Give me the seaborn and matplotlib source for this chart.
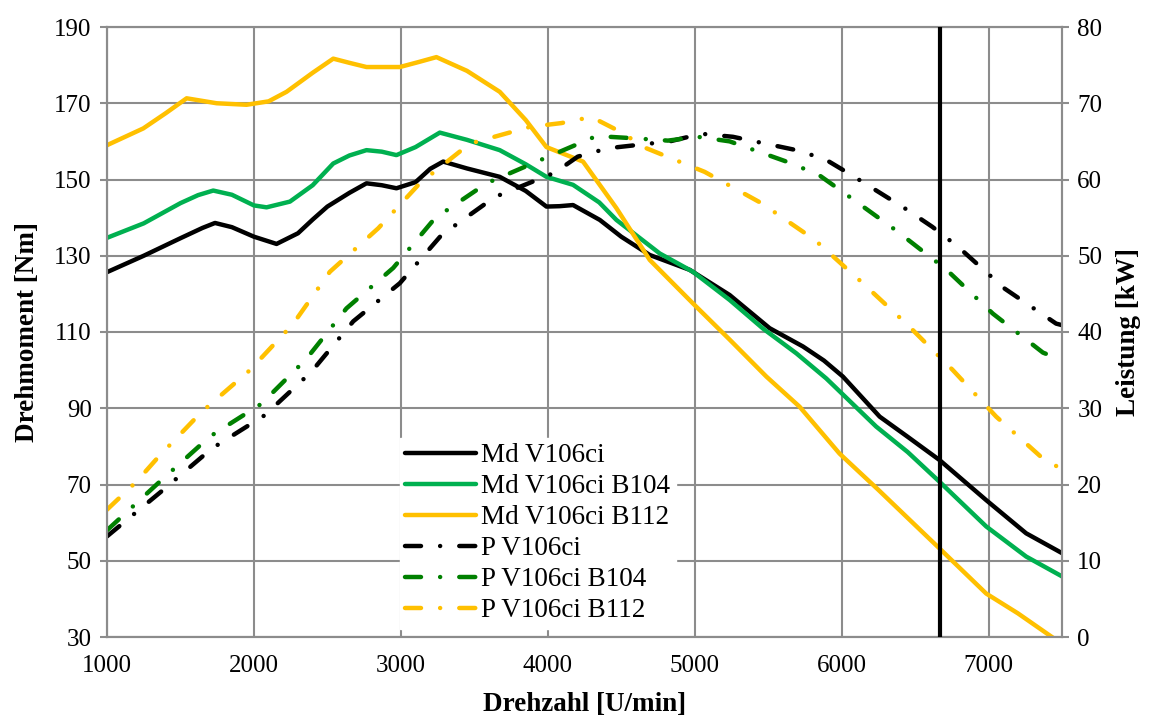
import matplotlib
matplotlib.use("Agg")
import matplotlib.pyplot as plt
import seaborn as sns
import pandas as pd

# ---------------- data ----------------
md_v106_x = [1000, 1250, 1500, 1650, 1735, 1850, 2000, 2154, 2300, 2400, 2500, 2650, 2766, 2870, 2970,
             3100, 3200, 3288, 3450, 3673, 3850, 3991, 4080, 4172, 4354, 4500, 4694, 4966, 5238,
             5510, 5737, 5880, 6009, 6259, 6450, 6667, 6984, 7256, 7500]
md_v106_y = [125.7, 130.0, 134.6, 137.3, 138.6, 137.5, 135.0, 133.1, 135.9, 139.5, 142.9, 146.5, 149.0, 148.5, 147.7,
             149.3, 152.8, 154.7, 152.9, 150.7, 147.0, 142.9, 143.0, 143.3, 139.4, 135.0, 130.2, 126.3, 119.7,
             111.0, 106.2, 102.5, 98.3, 87.8, 82.5, 76.4, 65.9, 57.2, 52.0]

md_b104_x = [1000, 1250, 1500, 1620, 1723, 1850, 2000, 2086, 2245, 2400, 2540, 2650, 2766, 2870, 2970,
             3100, 3265, 3450, 3673, 3850, 3991, 4172, 4350, 4467, 4762, 4988, 5238, 5465, 5692,
             5896, 6235, 6450, 6667, 6984, 7256, 7500]
md_b104_y = [134.7, 138.5, 143.8, 145.9, 147.1, 146.0, 143.2, 142.7, 144.2, 148.5, 154.2, 156.3, 157.7, 157.3, 156.4,
             158.5, 162.3, 160.4, 157.7, 154.0, 150.7, 148.6, 144.0, 139.4, 130.6, 125.8, 118.4, 110.9, 104.4,
             97.8, 85.2, 78.5, 70.7, 59.0, 51.1, 45.9]

md_b112_x = [1000, 1247, 1400, 1542, 1746, 1950, 2100, 2222, 2400, 2540, 2650, 2766, 2993, 3120, 3242,
             3450, 3673, 3850, 3991, 4240, 4467, 4694, 4988, 5238, 5488, 5714, 5986, 6250, 6667,
             6984, 7200, 7450]
md_b112_y = [159.0, 163.4, 167.4, 171.3, 170.0, 169.6, 170.5, 173.0, 178.0, 181.7, 180.6, 179.5, 179.5, 180.8, 182.1,
             178.5, 173.0, 165.6, 158.5, 154.7, 142.5, 128.9, 117.5, 108.0, 98.3, 90.4, 78.1, 68.6, 53.2,
             41.4, 36.2, 29.5]

p_v106_x = [1000, 1383, 1712, 2075, 2392, 2676, 2993, 3276, 3639, 4048, 4204, 4410, 4830, 5045,
            5260, 5680, 5884, 6066, 6440, 6617, 6791, 7109, 7460, 7500]
p_v106_y = [13.2, 19.3, 24.7, 29.1, 34.8, 41.4, 46.4, 52.7, 57.7, 60.9, 63.0, 64.1, 65.0, 66.0,
            65.6, 63.9, 62.7, 60.6, 56.1, 53.8, 51.2, 45.7, 41.1, 40.9]

p_b104_x = [1000, 1372, 1701, 2052, 2358, 2630, 2948, 3231, 3583, 3980, 4331, 4592, 4818, 5020,
            5238, 5646, 5845, 6020, 6372, 6712, 7030, 7370, 7500]
p_b104_y = [14.0, 20.6, 26.3, 30.6, 36.5, 43.1, 48.4, 54.9, 59.5, 62.8, 65.7, 65.4, 65.1, 65.6,
            65.0, 62.2, 60.6, 58.2, 53.3, 48.2, 42.4, 37.3, 36.3]

p_b112_x = [1000, 1202, 1349, 1643, 1973, 2268, 2517, 2846, 3129, 3469, 3878, 4093, 4297, 4490,
            4671, 5068, 5454, 5816, 6133, 6451, 6757, 7052, 7370, 7500]
p_b112_y = [16.7, 20.4, 23.6, 29.5, 35.0, 41.1, 47.9, 53.6, 59.5, 64.7, 66.9, 67.4, 68.2, 66.3,
            64.1, 61.0, 56.9, 52.1, 46.6, 40.9, 35.0, 28.9, 23.4, 22.0]

marker_rpm = 6670

x_ticks = [1000, 2000, 3000, 4000, 5000, 6000, 7000]
y_left_ticks = [30, 50, 70, 90, 110, 130, 150, 170, 190]
y_right_ticks = [0, 10, 20, 30, 40, 50, 60, 70, 80]

labels = ["Md V106ci", "Md V106ci B104", "Md V106ci B112",
          "P V106ci", "P V106ci B104", "P V106ci B112"]

# ---------------- style ----------------
sns.set_style("white")
plt.rcParams["font.family"] = ["Liberation Serif", "DejaVu Serif"]
plt.rcParams["font.size"] = 18
plt.rcParams["text.color"] = "black"
plt.rcParams["axes.labelcolor"] = "black"
plt.rcParams["xtick.labelcolor"] = "black"
plt.rcParams["ytick.labelcolor"] = "black"

GRID = "#8c8c8c"
BLACK = "#000000"
GREEN = "#00B050"
YELLOW = "#FFC000"
DKGREEN = "#008000"

fig = plt.figure(figsize=(11.52, 7.17), dpi=100)
ax = fig.add_axes([107 / 1152, 1 - 637 / 717, (1062 - 107) / 1152, (637 - 27) / 717])
ax2 = ax.twinx()

LW = 3.2
dashdot = (0, (3.6, 4.3, 0.01, 4.3))

torque = [(md_v106_x, md_v106_y, BLACK), (md_b104_x, md_b104_y, GREEN), (md_b112_x, md_b112_y, YELLOW)]
power = [(p_v106_x, p_v106_y, BLACK), (p_b104_x, p_b104_y, DKGREEN), (p_b112_x, p_b112_y, YELLOW)]

for (xs, ys, c), lab in zip(torque, labels[:3]):
    df = pd.DataFrame({"x": xs, "y": ys})
    sns.lineplot(data=df, x="x", y="y", ax=ax, color=c, linewidth=LW, label=lab,
                 solid_capstyle="round", solid_joinstyle="round", sort=False, estimator=None)

for (xs, ys, c), lab in zip(power, labels[3:]):
    df = pd.DataFrame({"x": xs, "y": ys})
    sns.lineplot(data=df, x="x", y="y", ax=ax2, color=c, linewidth=LW, label=lab,
                 linestyle=dashdot, dash_capstyle="round", sort=False, estimator=None)

ax2.axvline(marker_rpm, color=BLACK, linewidth=3.0, zorder=5)

ax.set_xlim(1000, 7500)
ax.set_ylim(30, 190)
ax2.set_ylim(0, 80)
ax.set_xticks(x_ticks)
ax.set_yticks(y_left_ticks)
ax2.set_yticks(y_right_ticks)

ax.grid(True, color=GRID, linewidth=1.5)
ax2.grid(False)
for a in (ax, ax2):
    for s in a.spines.values():
        s.set_color(GRID)
        s.set_linewidth(1.5)
    a.tick_params(direction="out", length=5, width=1.5, color=GRID, labelcolor="black",
                  labelsize=18, pad=6)
ax.tick_params(axis="x", pad=8)

ax.set_xlabel("Drehzahl [U/min]", fontsize=19.5, fontweight="bold", labelpad=11, color="black")
ax.set_ylabel("Drehmoment [Nm]", fontsize=19.5, fontweight="bold", labelpad=10, color="black")
ax2.set_ylabel("Leistung [kW]", fontsize=19.5, fontweight="bold", labelpad=10, color="black")

h1, l1 = ax.get_legend_handles_labels()
h2, l2 = ax2.get_legend_handles_labels()
if ax.get_legend():
    ax.get_legend().remove()
if ax2.get_legend():
    ax2.get_legend().remove()
leg = ax2.legend(h1 + h2, l1 + l2, loc="upper left", bbox_to_anchor=(400 / 1152, 1 - 438 / 717),
                 bbox_transform=fig.transFigure, frameon=True, fancybox=False, framealpha=1,
                 facecolor="white", edgecolor="white", fontsize=19.5, handlelength=2.6,
                 handletextpad=0.2, labelspacing=0.22, borderpad=0.2, borderaxespad=0,
                 labelcolor="black")
leg.set_zorder(10)

fig.savefig("out.png", dpi=100)
